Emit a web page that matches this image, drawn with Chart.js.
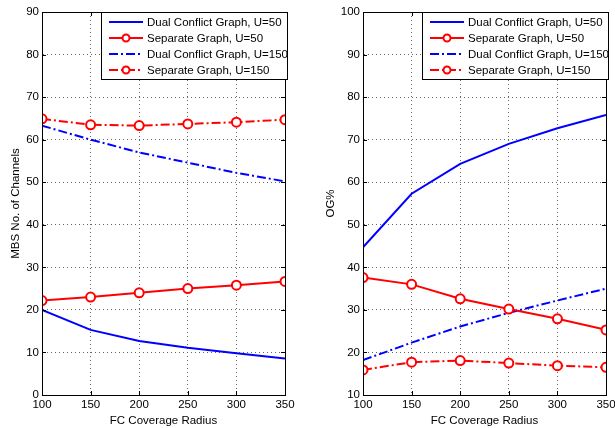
<!DOCTYPE html>
<html>
<head>
<meta charset="utf-8">
<script src="https://cdn.jsdelivr.net/npm/chart.js@4.4.0/dist/chart.umd.min.js"></script>
<style>
  body { margin: 0; background: #fff; }
  .wrap { position: absolute; top: 0; height: 428px; }
  #left { left: 0; width: 305px; }
  #right { left: 305px; width: 310px; }
</style>
</head>
<body>
<div class="wrap" id="left"><canvas id="mbs-chart"></canvas></div>
<div class="wrap" id="right"><canvas id="og-chart"></canvas></div>
<script>
const radius = [100, 150, 200, 250, 300, 350];
const seriesNames = [
  "Dual Conflict Graph, U=50",
  "Separate Graph, U=50",
  "Dual Conflict Graph, U=150",
  "Separate Graph, U=150"
];

// MBS number of channels
const mbsDual50 = [20.0, 15.3, 12.7, 11.1, 9.8, 8.6];
const mbsSep50 = [22.2, 23.0, 24.0, 25.0, 25.8, 26.7];
const mbsDual150 = [63.3, 60.0, 57.0, 54.6, 52.2, 50.2];
const mbsSep150 = [64.9, 63.5, 63.3, 63.7, 64.1, 64.7];

// OG%
const ogDual50 = [44.7, 57.3, 64.3, 69.0, 72.7, 75.8];
const ogSep50 = [37.6, 36.0, 32.6, 30.2, 27.9, 25.3];
const ogDual150 = [18.2, 22.3, 26.1, 29.3, 32.2, 35.0];
const ogSep150 = [15.9, 17.7, 18.1, 17.5, 16.9, 16.5];

const FONT = "'Liberation Sans', Arial, sans-serif";
const dashDot = [9, 3, 2, 3];

function makeDatasets(values) {
  const styles = [
    { color: "#0000ff", dash: [], marker: false },
    { color: "#ff0000", dash: [], marker: true },
    { color: "#0000ff", dash: dashDot, marker: false },
    { color: "#ff0000", dash: dashDot, marker: true }
  ];
  return values.map((vals, i) => ({
    label: seriesNames[i],
    data: vals.map((v, j) => ({ x: radius[j], y: v })),
    borderColor: styles[i].color,
    borderWidth: 2,
    borderDash: styles[i].dash,
    pointRadius: styles[i].marker ? 4.5 : 0,
    pointBorderWidth: 2,
    pointBorderColor: styles[i].color,
    pointBackgroundColor: "#fff",
    tension: 0,
    fill: false
  }));
}

// box around plot, inward ticks, legend in upper right corner
const framePlugin = {
  id: "frame",
  afterDatasetsDraw(chart) {
    const { ctx, chartArea: a, scales } = chart;
    ctx.save();
    ctx.strokeStyle = "#000";
    ctx.lineWidth = 1;
    ctx.setLineDash([]);
    ctx.strokeRect(a.left + 0.5, a.top + 0.5, a.right - a.left, a.bottom - a.top);
    ctx.beginPath();
    scales.x.ticks.forEach(t => {
      const px = Math.round(scales.x.getPixelForValue(t.value)) + 0.5;
      ctx.moveTo(px, a.bottom); ctx.lineTo(px, a.bottom - 4);
      ctx.moveTo(px, a.top); ctx.lineTo(px, a.top + 4);
    });
    scales.y.ticks.forEach(t => {
      const py = Math.round(scales.y.getPixelForValue(t.value)) + 0.5;
      ctx.moveTo(a.left, py); ctx.lineTo(a.left + 4, py);
      ctx.moveTo(a.right, py); ctx.lineTo(a.right - 4, py);
    });
    ctx.stroke();

    // legend
    const w = 186, h = 67;
    const bx = a.right - w + 2, by = a.top;
    ctx.fillStyle = "#fff";
    ctx.fillRect(bx, by, w, h);
    ctx.strokeRect(bx + 0.5, by + 0.5, w, h);
    ctx.font = "11.5px " + FONT;
    ctx.textBaseline = "middle";
    chart.data.datasets.forEach((ds, i) => {
      const y = by + 10 + i * 16;
      ctx.strokeStyle = ds.borderColor;
      ctx.lineWidth = 2;
      ctx.setLineDash(ds.borderDash);
      ctx.beginPath();
      ctx.moveTo(bx + 8, y); ctx.lineTo(bx + 42, y);
      ctx.stroke();
      ctx.setLineDash([]);
      if (ds.pointRadius > 0) {
        ctx.beginPath();
        ctx.arc(bx + 25, y, 3.5, 0, Math.PI * 2);
        ctx.fillStyle = "#fff";
        ctx.fill();
        ctx.stroke();
      }
      ctx.fillStyle = "#000";
      ctx.fillText(ds.label, bx + 46, y + 0.5);
    });
    ctx.restore();
  }
};

function makeChart(id, datasets, yMin, yMax, yTitle, yWidth, padRight, titlePad) {
  const canvas = document.getElementById(id);
  return new Chart(canvas.getContext("2d"), {
    type: "line",
    data: { datasets },
    options: {
      responsive: true,
      maintainAspectRatio: false,
      animation: false,
      layout: { padding: { top: 12, right: padRight, left: 0, bottom: 0 } },
      plugins: { legend: { display: false }, tooltip: { enabled: false } },
      scales: {
        x: {
          type: "linear",
          min: 100,
          max: 350,
          afterFit: s => { s.height = 33; s.paddingLeft = 0; s.paddingRight = 0; },
          ticks: { stepSize: 50, color: "#000", padding: 3, font: { family: FONT, size: 11.5 } },
          grid: { color: "#666", drawTicks: false },
          border: { color: "#000", dash: [1, 3] },
          title: { display: true, text: "FC Coverage Radius", color: "#000", padding: 0, font: { family: FONT, size: 11.5 } }
        },
        y: {
          min: yMin,
          max: yMax,
          afterFit: s => { s.width = yWidth; },
          ticks: { stepSize: 10, color: "#000", padding: 3, font: { family: FONT, size: 11.5 } },
          grid: { color: "#666", drawTicks: false },
          border: { color: "#000", dash: [1, 3] },
          title: { display: true, text: yTitle, color: "#000", padding: { top: titlePad, bottom: 0 }, font: { family: FONT, size: 11.5 } }
        }
      }
    },
    plugins: [framePlugin]
  });
}

makeChart("mbs-chart", makeDatasets([mbsDual50, mbsSep50, mbsDual150, mbsSep150]),
  0, 90, "MBS No. of Channels", 42, 20, 9);
makeChart("og-chart", makeDatasets([ogDual50, ogSep50, ogDual150, ogSep150]),
  10, 100, "OG%", 58, 9, 19);
</script>
</body>
</html>
